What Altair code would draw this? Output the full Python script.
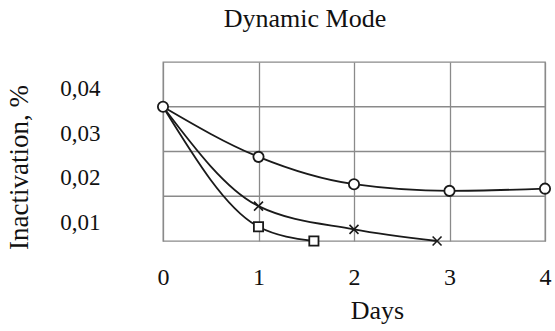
import altair as alt
import pandas as pd

# --- data ---
circle_days = [0, 1, 2, 3, 4]
circle_vals = [0.035, 0.0238, 0.0177, 0.0162, 0.0167]

cross_days = [0, 1, 2, 2.87]
cross_vals = [0.035, 0.0128, 0.0076, 0.005]

square_days = [0, 1, 1.58]
square_vals = [0.035, 0.0082, 0.005]

x_ticks = [0, 1, 2, 3, 4]
y_ticks = [0.01, 0.02, 0.03, 0.04]
y_grid = [0.015, 0.025, 0.035]

FONT = "Liberation Serif, Times New Roman, Times, serif"
GRID = "#8a8a8a"
INK = "#1a1a1a"

rows = []
for name, ds, vs in [("circle", circle_days, circle_vals),
                     ("cross", cross_days, cross_vals),
                     ("square", square_days, square_vals)]:
    for i, (d, v) in enumerate(zip(ds, vs)):
        rows.append({"series": name, "day": d, "val": v, "idx": i})
df = pd.DataFrame(rows)
grid_df = pd.DataFrame({"g": y_grid})

xscale = alt.Scale(domain=[0, 4], nice=False, zero=False)
yscale = alt.Scale(domain=[0.005, 0.045], nice=False, zero=False)

xaxis = alt.Axis(values=x_ticks, format="d", grid=True, gridColor=GRID,
                 gridWidth=1.3, ticks=False, domain=False, labelFlush=False,
                 labelFont=FONT, labelFontSize=24, labelColor="#111",
                 labelPadding=24, title="Days", titleFont=FONT,
                 titleFontSize=26, titleFontWeight="normal", titleColor="#111",
                 titleX=214, titleY=77, titleAlign="center",
                 titleBaseline="alphabetic")
yaxis = alt.Axis(values=y_ticks, grid=False, ticks=False, domain=False,
                 labelExpr="replace(format(datum.value, '.2f'), '.', ',')",
                 labelFont=FONT, labelFontSize=23, labelColor="#111",
                 labelPadding=63, labelOffset=4,
                 title="Inactivation, %", titleFont=FONT, titleFontSize=27,
                 titleFontWeight="normal", titleColor="#111",
                 titleX=-144, titleY=105, titleAlign="center",
                 titleBaseline="middle", titleAngle=-90)

base = alt.Chart(df)

grid = alt.Chart(grid_df).mark_rule(color=GRID, strokeWidth=1.3).encode(
    y=alt.Y("g:Q", scale=yscale, axis=yaxis)
)

lines = base.mark_line(color=INK, strokeWidth=1.8, interpolate="monotone").encode(
    x=alt.X("day:Q", scale=xscale, axis=xaxis),
    y=alt.Y("val:Q", scale=yscale, axis=yaxis),
    detail="series:N",
    order="day:Q",
)

xpath = "M-1,-1L1,1M-1,1L1,-1"
crosses = base.transform_filter(
    (alt.datum.series == "cross") & (alt.datum.idx > 0)
).mark_point(shape=xpath, size=80, stroke=INK, strokeWidth=1.6,
             filled=False, opacity=1).encode(
    x=alt.X("day:Q", scale=xscale), y=alt.Y("val:Q", scale=yscale))

squares = base.transform_filter(
    (alt.datum.series == "square") & (alt.datum.idx > 0)
).mark_point(shape="square", size=85, stroke=INK, strokeWidth=1.8,
             fill="white", filled=True, opacity=1).encode(
    x=alt.X("day:Q", scale=xscale), y=alt.Y("val:Q", scale=yscale))

circles = base.transform_filter(alt.datum.series == "circle").mark_point(
    shape="circle", size=105, stroke=INK, strokeWidth=1.8,
    fill="white", filled=True, opacity=1).encode(
    x=alt.X("day:Q", scale=xscale), y=alt.Y("val:Q", scale=yscale))

chart = alt.layer(grid, lines, crosses, squares, circles).properties(
    width=382, height=179,
    title=alt.Title("Dynamic Mode", font=FONT, fontSize=26,
                    fontWeight="normal", color="#111", anchor="middle",
                    dx=-49, offset=30),
    autosize=alt.AutoSizeParams(type="none"),
    padding={"left": 163, "top": 62, "right": 10, "bottom": 90},
    background="white",
).configure_view(stroke=GRID, strokeWidth=1.3)

chart.save("out.html", embed_options={"renderer": "svg", "actions": False})
